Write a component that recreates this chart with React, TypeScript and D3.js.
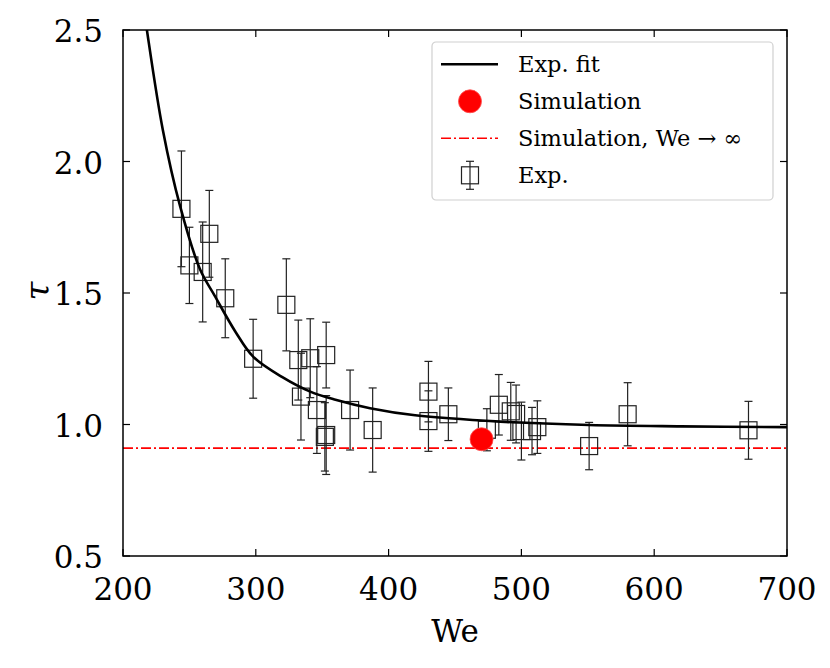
import React, { useEffect, useRef } from "react";
import * as d3 from "d3";

// experimental points: Weber number, tau, error bar half-height
const weExp = [244, 250, 260, 265, 277, 298, 323, 332, 334, 341, 346, 352, 353, 353, 371, 388, 430, 430, 445, 474, 483, 492, 496, 500, 508, 512, 551, 580, 671];
const tauExp = [1.82, 1.605, 1.58, 1.725, 1.48, 1.25, 1.455, 1.245, 1.106, 1.252, 1.055, 0.953, 0.96, 1.264, 1.055, 0.979, 1.125, 1.013, 1.039, 0.98, 1.075, 1.05, 1.04, 0.975, 0.975, 0.99, 0.918, 1.039, 0.978];
const errExp = [0.22, 0.145, 0.19, 0.165, 0.15, 0.15, 0.175, 0.152, 0.165, 0.15, 0.165, 0.13, 0.15, 0.125, 0.152, 0.16, 0.115, 0.115, 0.1, 0.08, 0.115, 0.11, 0.11, 0.11, 0.09, 0.1, 0.09, 0.12, 0.11];

// exp. fit curve
const weFit = [212, 218, 230, 243, 258, 269, 285, 298, 320, 341, 360, 386, 420, 484, 551, 620, 700];
const tauFit = [2.72, 2.5, 2.12, 1.83, 1.59, 1.49, 1.35, 1.258, 1.18, 1.125, 1.094, 1.062, 1.035, 1.011, 0.998, 0.993, 0.99];

// simulation
const weSim = [470];
const tauSim = [0.944];
const tauInf = 0.91;

const xTicks = [200, 300, 400, 500, 600, 700];
const yTicks = [0.5, 1.0, 1.5, 2.0, 2.5];

const legendLabels = ["Exp. fit", "Simulation", "Simulation, We \u2192 \u221e", "Exp."];

const W = 830;
const H = 668;
const FONT = '"DejaVu Serif", "Liberation Serif", serif';

const App: React.FC = () => {
  const svgRef = useRef<SVGSVGElement | null>(null);

  useEffect(() => {
    const svg = d3.select(svgRef.current);
    svg.selectAll("*").remove();

    const margin = { top: 30, right: 43, bottom: 112, left: 123 };
    const innerW = W - margin.left - margin.right;
    const innerH = H - margin.top - margin.bottom;

    const x = d3.scaleLinear().domain([200, 700]).range([0, innerW]);
    const y = d3.scaleLinear().domain([0.5, 2.5]).range([innerH, 0]);

    const defs = svg.append("defs");
    defs
      .append("clipPath")
      .attr("id", "plotClip")
      .append("rect")
      .attr("width", innerW)
      .attr("height", innerH);

    const g = svg.append("g").attr("transform", `translate(${margin.left},${margin.top})`);
    const plot = g.append("g").attr("clip-path", "url(#plotClip)");

    // dash-dot asymptote
    plot
      .append("line")
      .attr("x1", 0)
      .attr("x2", innerW)
      .attr("y1", y(tauInf))
      .attr("y2", y(tauInf))
      .attr("stroke", "#ff0000")
      .attr("stroke-width", 1.6)
      .attr("stroke-dasharray", "10 3 2 3");

    // experiments with error bars
    const cap = 4;
    const sq = 17;
    weExp.forEach((we, i) => {
      const cx = x(we);
      const top = y(tauExp[i] + errExp[i]);
      const bot = y(tauExp[i] - errExp[i]);
      const eb = plot.append("g").attr("stroke", "#222").attr("stroke-width", 1.2).attr("fill", "none");
      eb.append("line").attr("x1", cx).attr("x2", cx).attr("y1", top).attr("y2", bot);
      eb.append("line").attr("x1", cx - cap).attr("x2", cx + cap).attr("y1", top).attr("y2", top);
      eb.append("line").attr("x1", cx - cap).attr("x2", cx + cap).attr("y1", bot).attr("y2", bot);
      eb.append("rect")
        .attr("x", cx - sq / 2)
        .attr("y", y(tauExp[i]) - sq / 2)
        .attr("width", sq)
        .attr("height", sq);
    });

    // fit curve
    const line = d3
      .line<number>()
      .x((d) => x(d))
      .y((_, i) => y(tauFit[i]))
      .curve(d3.curveCatmullRom.alpha(0.5));
    plot
      .append("path")
      .datum(weFit)
      .attr("fill", "none")
      .attr("stroke", "#000")
      .attr("stroke-width", 2.6)
      .attr("d", line);

    // simulation point
    weSim.forEach((we, i) => {
      plot
        .append("circle")
        .attr("cx", x(we))
        .attr("cy", y(tauSim[i]))
        .attr("r", 11.5)
        .attr("fill", "#ff0000")
        .attr("stroke", "#ff5050")
        .attr("stroke-width", 0.8);
    });

    // frame
    g.append("rect")
      .attr("width", innerW)
      .attr("height", innerH)
      .attr("fill", "none")
      .attr("stroke", "#000")
      .attr("stroke-width", 1.5);

    // inward ticks on all sides
    const tl = 7;
    const ticks = g.append("g").attr("stroke", "#000").attr("stroke-width", 1.2);
    xTicks.forEach((t) => {
      ticks.append("line").attr("x1", x(t)).attr("x2", x(t)).attr("y1", innerH).attr("y2", innerH - tl);
      ticks.append("line").attr("x1", x(t)).attr("x2", x(t)).attr("y1", 0).attr("y2", tl);
    });
    yTicks.forEach((t) => {
      ticks.append("line").attr("x1", 0).attr("x2", tl).attr("y1", y(t)).attr("y2", y(t));
      ticks.append("line").attr("x1", innerW).attr("x2", innerW - tl).attr("y1", y(t)).attr("y2", y(t));
    });

    // tick labels
    g.selectAll(".xl")
      .data(xTicks)
      .enter()
      .append("text")
      .attr("x", (d) => x(d))
      .attr("y", innerH + 44)
      .attr("text-anchor", "middle")
      .style("font-family", FONT)
      .style("font-size", "31px")
      .text((d) => d3.format("d")(d));

    g.selectAll(".yl")
      .data(yTicks)
      .enter()
      .append("text")
      .attr("x", -20)
      .attr("y", (d) => y(d) + 12)
      .attr("text-anchor", "end")
      .style("font-family", FONT)
      .style("font-size", "31px")
      .text((d) => d3.format(".1f")(d));

    // axis labels
    g.append("text")
      .attr("x", innerW / 2)
      .attr("y", innerH + 86)
      .attr("text-anchor", "middle")
      .style("font-family", FONT)
      .style("font-size", "31px")
      .text("We");

    g.append("text")
      .attr("transform", `translate(${-86},${y(1.5) - 2}) rotate(-90)`)
      .attr("text-anchor", "middle")
      .attr("dominant-baseline", "central")
      .style("font-family", FONT)
      .style("font-style", "italic")
      .style("font-size", "34px")
      .text("\u03c4");

    // legend
    const lg = svg.append("g").attr("transform", "translate(432,42)");
    lg.append("rect")
      .attr("width", 341)
      .attr("height", 158)
      .attr("rx", 4)
      .attr("fill", "#fff")
      .attr("fill-opacity", 0.85)
      .attr("stroke", "#d0d0d0")
      .attr("stroke-width", 1.2);

    const rowY = (i: number) => 22.3 + i * 37;
    const hx0 = 9;
    const hx1 = 66;
    const hc = 38;

    lg.append("line")
      .attr("x1", hx0)
      .attr("x2", hx1)
      .attr("y1", rowY(0))
      .attr("y2", rowY(0))
      .attr("stroke", "#000")
      .attr("stroke-width", 2.6);

    lg.append("circle")
      .attr("cx", hc)
      .attr("cy", rowY(1))
      .attr("r", 11.5)
      .attr("fill", "#ff0000")
      .attr("stroke", "#ff5050")
      .attr("stroke-width", 0.8);

    lg.append("line")
      .attr("x1", hx0)
      .attr("x2", hx1)
      .attr("y1", rowY(2))
      .attr("y2", rowY(2))
      .attr("stroke", "#ff0000")
      .attr("stroke-width", 1.6)
      .attr("stroke-dasharray", "10 3 2 3");

    const le = lg.append("g").attr("stroke", "#222").attr("stroke-width", 1.2).attr("fill", "none");
    const ly = rowY(3);
    le.append("line").attr("x1", hc).attr("x2", hc).attr("y1", ly - 14).attr("y2", ly + 14);
    le.append("line").attr("x1", hc - cap).attr("x2", hc + cap).attr("y1", ly - 14).attr("y2", ly - 14);
    le.append("line").attr("x1", hc - cap).attr("x2", hc + cap).attr("y1", ly + 14).attr("y2", ly + 14);
    le.append("rect").attr("x", hc - 8.5).attr("y", ly - 8.5).attr("width", 17).attr("height", 17);

    legendLabels.forEach((lab, i) => {
      lg.append("text")
        .attr("x", 86)
        .attr("y", rowY(i) + 8)
        .style("font-family", FONT)
        .style("font-size", "22.5px")
        .text(lab);
    });
  }, []);

  return (
    <div style={{ position: "absolute", left: 0, top: 0 }}>
      <svg ref={svgRef} width={W} height={H} style={{ display: "block", background: "#fff" }} />
    </div>
  );
};

export default App;
